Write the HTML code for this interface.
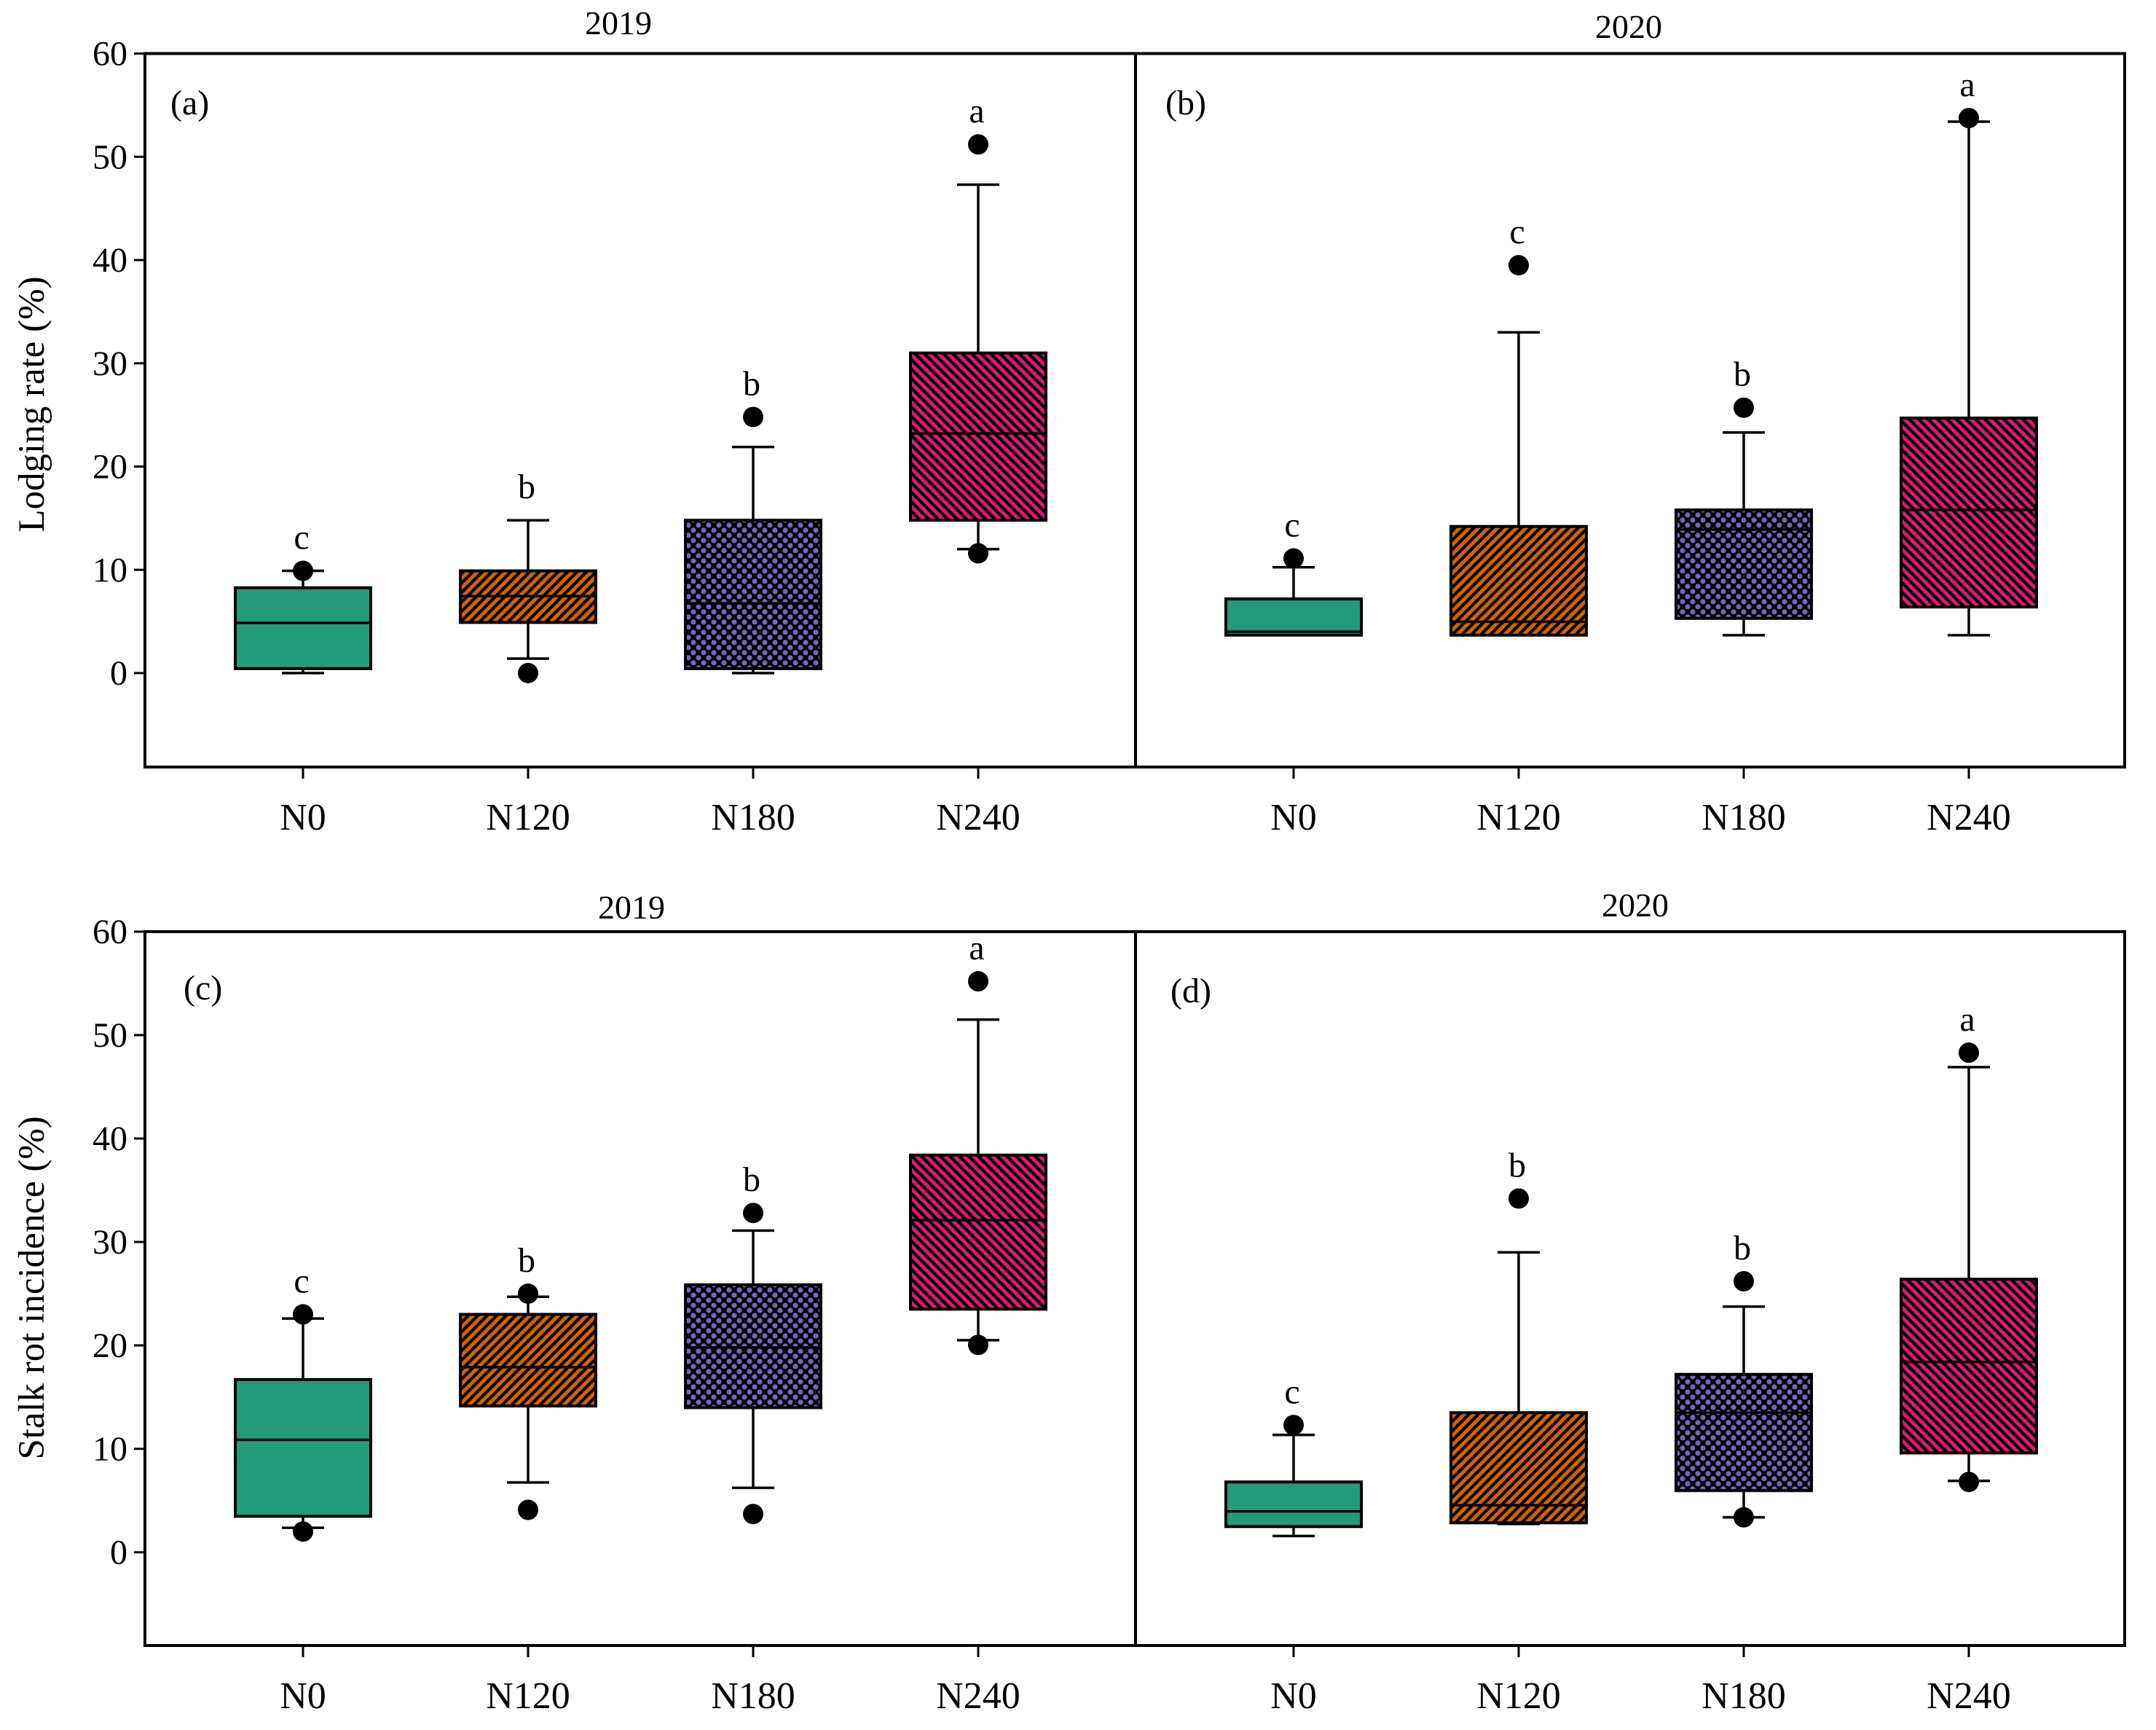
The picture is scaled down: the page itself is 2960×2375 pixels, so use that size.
<!DOCTYPE html>
<html><head><meta charset="utf-8">
<style>
html,body{margin:0;padding:0;background:#fff;}
svg{display:block;font-family:"Liberation Serif",serif;}
</style></head>
<body>
<svg id="chart" width="2960" height="2375" viewBox="0 0 2960 2375" xmlns="http://www.w3.org/2000/svg">
<defs>
<pattern id="pOrange" patternUnits="userSpaceOnUse" width="9.2" height="9.2" patternTransform="rotate(45)">
<rect width="9.2" height="9.2" fill="#d26400"/><rect width="4.2" height="9.2" fill="#000"/>
</pattern>
<pattern id="pPink" patternUnits="userSpaceOnUse" width="9.2" height="9.2" patternTransform="rotate(-45)">
<rect width="9.2" height="9.2" fill="#d81b72"/><rect width="4.2" height="9.2" fill="#000"/>
</pattern>
<pattern id="pPurple" patternUnits="userSpaceOnUse" width="14" height="14">
<rect width="14" height="14" fill="#000"/>
<circle cx="0" cy="0" r="3.6" fill="#7468bb"/><circle cx="14" cy="0" r="3.6" fill="#7468bb"/>
<circle cx="0" cy="14" r="3.6" fill="#7468bb"/><circle cx="14" cy="14" r="3.6" fill="#7468bb"/>
<circle cx="7" cy="7" r="3.6" fill="#7468bb"/>
</pattern>
</defs>
</svg>
<script>
const categories = ["N0","N120","N180","N240"];
const yTicks = [0,10,20,30,40,50,60];
const fills = ["#229b78","url(#pOrange)","url(#pPurple)","url(#pPink)"];

// Panel (a) 2019 lodging
const aQ1 = [0.43, 4.9, 0.43, 14.8];
const aMed = [4.86, 7.45, 6.75, 23.2];
const aQ3 = [8.26, 9.9, 14.8, 31.0];
const aLo = [0, 1.4, 0, 12.0];
const aHi = [9.9, 14.8, 21.9, 47.3];
const aOut = [[9.9], [0], [24.8], [51.2, 11.6]];
const aSig = ["c","b","b","a"];

// Panel (b) 2020 lodging
const bQ1 = [3.67, 3.67, 5.3, 6.4];
const bMed = [4.0, 4.97, 13.9, 15.8];
const bQ3 = [7.18, 14.2, 15.8, 24.7];
const bLo = [3.67, 3.67, 3.67, 3.67];
const bHi = [10.25, 33.0, 23.3, 53.4];
const bOut = [[11.1], [39.5], [25.7], [53.75]];
const bSig = ["c","c","b","a"];

// Panel (c) 2019 stalk rot
const cQ1 = [3.48, 14.14, 13.98, 23.5];
const cMed = [10.87, 17.9, 19.8, 32.1];
const cQ3 = [16.7, 23.0, 25.86, 38.4];
const cLo = [2.37, 6.75, 6.23, 20.5];
const cHi = [22.6, 24.7, 31.1, 51.5];
const cOut = [[23.0, 2.0], [25.0, 4.1], [32.8, 3.7], [55.2, 20.05]];
const cSig = ["c","b","b","a"];

// Panel (d) 2020 stalk rot
const dQ1 = [2.48, 2.85, 5.96, 9.6];
const dMed = [3.96, 4.54, 13.5, 18.4];
const dQ3 = [6.8, 13.5, 17.2, 26.4];
const dLo = [1.58, 2.74, 3.38, 6.9];
const dHi = [11.35, 29.0, 23.75, 46.9];
const dOut = [[12.3], [34.2], [26.2, 3.38], [48.3, 6.8]];
const dSig = ["c","b","b","a"];

const NS = "http://www.w3.org/2000/svg";
const svg = document.getElementById('chart');
function mk(tag, attrs, parent){
  const e = document.createElementNS(NS, tag);
  for (const k in attrs) e.setAttribute(k, attrs[k]);
  (parent||svg).appendChild(e);
  return e;
}

function drawPanel(cfg){
  const g = mk('g', {});
  
  
  const yScale = v => cfg.zero - v * (cfg.zero - cfg.top) / 60;
  const xScale = i => cfg.left + 217 + i * 309;
  const fr = mk('rect', {x:cfg.left, y:cfg.top, width:cfg.right-cfg.left, height:cfg.bottom-cfg.top, fill:'none', stroke:'#000', 'stroke-width':4}, g);
  
  
  if (cfg.yAxis){
    yTicks.forEach(t => {
      const y = yScale(t);
      const tk = mk('line', {x1:cfg.left-15, x2:cfg.left, y1:y, y2:y, stroke:'#000','stroke-width':3}, g);
      
      
      const tl = mk('text', {x:cfg.left-24, y:y+16, 'font-size':48, 'text-anchor':'end'}, g);
      tl.textContent = t;
      
      
    });
    const yt = mk('text', {x:0, y:0, 'font-size':51, 'text-anchor':'middle', transform:`translate(${cfg.titleX},${cfg.titleY}) rotate(-90)`}, g);
    yt.textContent = cfg.yTitle;
    
    
  }
  const tt = mk('text', {x:cfg.yearX, y:cfg.yearY, 'font-size':46, 'text-anchor':'middle'}, g);
  tt.textContent = cfg.year;
  
  
  const pl = mk('text', {x:cfg.labX, y:cfg.labY, 'font-size':48}, g);
  pl.textContent = cfg.label;
  
  

  categories.forEach((c, i) => {
    const x = xScale(i);
    const tk = mk('line', {x1:x, x2:x, y1:cfg.bottom, y2:cfg.bottom+16, stroke:'#000','stroke-width':3}, g);
    
    
    const xl = mk('text', {x:x, y:cfg.bottom+86, 'font-size':52, 'text-anchor':'middle'}, g);
    xl.textContent = c;
    
    

    const bg = mk('g', {}, g);
    
    
    const hw = 93, cw = 29;
    const yHi = yScale(cfg.hi[i]), yLo = yScale(cfg.lo[i]);
    const yQ3 = yScale(cfg.q3[i]), yQ1 = yScale(cfg.q1[i]);
    const w1 = mk('line', {x1:x, x2:x, y1:yHi, y2:yQ3, stroke:'#000','stroke-width':3.5}, bg);
    
    
    const c1 = mk('line', {x1:x-cw, x2:x+cw, y1:yHi, y2:yHi, stroke:'#000','stroke-width':3.5}, bg);
    
    
    const w2 = mk('line', {x1:x, x2:x, y1:yQ1, y2:yLo, stroke:'#000','stroke-width':3.5}, bg);
    
    
    const c2 = mk('line', {x1:x-cw, x2:x+cw, y1:yLo, y2:yLo, stroke:'#000','stroke-width':3.5}, bg);
    
    
    const r = mk('rect', {x:x-hw, y:yQ3, width:2*hw, height:yQ1-yQ3, fill:fills[i], stroke:'#000','stroke-width':4}, bg);
    
    
    const ym = yScale(cfg.med[i]);
    const m = mk('line', {x1:x-hw, x2:x+hw, y1:ym, y2:ym, stroke:'#000','stroke-width':3.5}, bg);
    
    
    cfg.out[i].forEach(v => {
      const o = mk('circle', {cx:x, cy:yScale(v), r:14, fill:'#000'}, bg);
      
      
    });
    const topV = Math.max(cfg.hi[i], ...cfg.out[i]);
    const s = mk('text', {x:x-2, y:yScale(topV)-30, 'font-size':48, 'text-anchor':'middle'}, bg);
    s.textContent = cfg.sig[i];
    
    
  });
}

drawPanel({name:'panel-a', left:199, right:1559, top:73.5, bottom:1053, zero:924, yAxis:true,
  yTitle:'Lodging rate (%)', titleX:60, titleY:555, year:'2019', yearX:849, yearY:47, label:'(a)', labX:234, labY:157,
  q1:aQ1, med:aMed, q3:aQ3, lo:aLo, hi:aHi, out:aOut, sig:aSig});
drawPanel({name:'panel-b', left:1559, right:2917, top:73.5, bottom:1053, zero:924, yAxis:false,
  year:'2020', yearX:2236, yearY:52, label:'(b)', labX:1600, labY:157,
  q1:bQ1, med:bMed, q3:bQ3, lo:bLo, hi:bHi, out:bOut, sig:bSig});
drawPanel({name:'panel-c', left:199, right:1559, top:1279, bottom:2259, zero:2131, yAxis:true,
  yTitle:'Stalk rot incidence (%)', titleX:60, titleY:1768, year:'2019', yearX:867, yearY:1261, label:'(c)', labX:252, labY:1372,
  q1:cQ1, med:cMed, q3:cQ3, lo:cLo, hi:cHi, out:cOut, sig:cSig});
drawPanel({name:'panel-d', left:1559, right:2917, top:1279, bottom:2259, zero:2131, yAxis:false,
  year:'2020', yearX:2245, yearY:1258, label:'(d)', labX:1607, labY:1376,
  q1:dQ1, med:dMed, q3:dQ3, lo:dLo, hi:dHi, out:dOut, sig:dSig});
</script>
</body></html>
